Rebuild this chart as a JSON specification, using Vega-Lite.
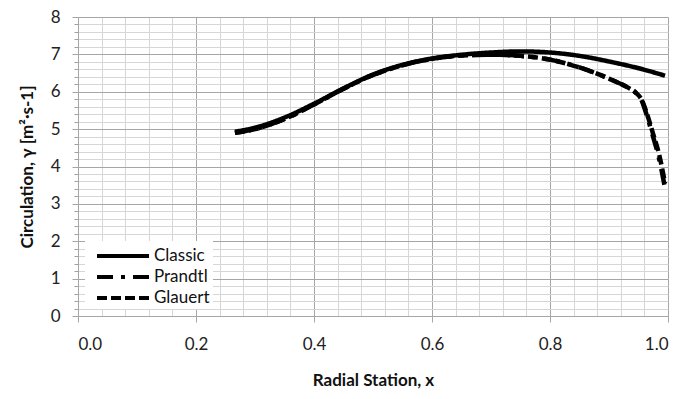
{
  "$schema": "https://vega.github.io/schema/vega-lite/v6.json",
  "width": 590,
  "height": 299,
  "autosize": "none",
  "padding": {"left": 78, "top": 17, "right": 29, "bottom": 83},
  "background": "white",
  "config": {"view": {"stroke": null}, "font": "Lato"},
  "data": {
    "values": [
      {"series": "Classic", "x": 0.266, "y": 4.93},
      {"series": "Classic", "x": 0.3, "y": 5.04},
      {"series": "Classic", "x": 0.35, "y": 5.31},
      {"series": "Classic", "x": 0.4, "y": 5.68},
      {"series": "Classic", "x": 0.45, "y": 6.09},
      {"series": "Classic", "x": 0.5, "y": 6.46},
      {"series": "Classic", "x": 0.55, "y": 6.72},
      {"series": "Classic", "x": 0.6, "y": 6.89},
      {"series": "Classic", "x": 0.65, "y": 6.99},
      {"series": "Classic", "x": 0.7, "y": 7.05},
      {"series": "Classic", "x": 0.75, "y": 7.08},
      {"series": "Classic", "x": 0.8, "y": 7.05},
      {"series": "Classic", "x": 0.85, "y": 6.96},
      {"series": "Classic", "x": 0.9, "y": 6.81},
      {"series": "Classic", "x": 0.95, "y": 6.63},
      {"series": "Classic", "x": 0.995, "y": 6.43},
      {"series": "Prandtl", "x": 0.266, "y": 4.9},
      {"series": "Prandtl", "x": 0.3, "y": 5.0},
      {"series": "Prandtl", "x": 0.35, "y": 5.27},
      {"series": "Prandtl", "x": 0.4, "y": 5.66},
      {"series": "Prandtl", "x": 0.45, "y": 6.08},
      {"series": "Prandtl", "x": 0.5, "y": 6.45},
      {"series": "Prandtl", "x": 0.55, "y": 6.71},
      {"series": "Prandtl", "x": 0.6, "y": 6.88},
      {"series": "Prandtl", "x": 0.65, "y": 6.97},
      {"series": "Prandtl", "x": 0.7, "y": 6.99},
      {"series": "Prandtl", "x": 0.75, "y": 6.96},
      {"series": "Prandtl", "x": 0.8, "y": 6.86},
      {"series": "Prandtl", "x": 0.85, "y": 6.65},
      {"series": "Prandtl", "x": 0.9, "y": 6.35},
      {"series": "Prandtl", "x": 0.93, "y": 6.13},
      {"series": "Prandtl", "x": 0.945, "y": 5.98},
      {"series": "Prandtl", "x": 0.955, "y": 5.78},
      {"series": "Prandtl", "x": 0.965, "y": 5.32},
      {"series": "Prandtl", "x": 0.975, "y": 4.78},
      {"series": "Prandtl", "x": 0.985, "y": 4.2},
      {"series": "Prandtl", "x": 0.995, "y": 3.42},
      {"series": "Glauert", "x": 0.266, "y": 4.9},
      {"series": "Glauert", "x": 0.3, "y": 5.0},
      {"series": "Glauert", "x": 0.35, "y": 5.27},
      {"series": "Glauert", "x": 0.4, "y": 5.66},
      {"series": "Glauert", "x": 0.45, "y": 6.08},
      {"series": "Glauert", "x": 0.5, "y": 6.45},
      {"series": "Glauert", "x": 0.55, "y": 6.71},
      {"series": "Glauert", "x": 0.6, "y": 6.88},
      {"series": "Glauert", "x": 0.65, "y": 6.97},
      {"series": "Glauert", "x": 0.7, "y": 6.99},
      {"series": "Glauert", "x": 0.75, "y": 6.96},
      {"series": "Glauert", "x": 0.8, "y": 6.86},
      {"series": "Glauert", "x": 0.85, "y": 6.65},
      {"series": "Glauert", "x": 0.9, "y": 6.35},
      {"series": "Glauert", "x": 0.93, "y": 6.13},
      {"series": "Glauert", "x": 0.945, "y": 5.98},
      {"series": "Glauert", "x": 0.955, "y": 5.8},
      {"series": "Glauert", "x": 0.965, "y": 5.38},
      {"series": "Glauert", "x": 0.975, "y": 4.86},
      {"series": "Glauert", "x": 0.985, "y": 4.32},
      {"series": "Glauert", "x": 0.995, "y": 3.55}
    ]
  },
  "resolve": {"axis": {"x": "independent", "y": "independent"}},
  "layer": [
    {
      "mark": {"type": "point", "opacity": 0},
      "encoding": {
        "x": {
          "field": "x", "type": "quantitative",
          "scale": {"domain": [0, 1], "nice": false, "zero": false},
          "axis": {
            "orient": "bottom", "title": null, "labels": false, "ticks": false, "domain": false,
            "grid": true, "gridColor": "#d6d6d6", "gridWidth": 1,
            "values": [0, 0.04, 0.08, 0.12, 0.16, 0.2, 0.24, 0.28, 0.32, 0.36, 0.4, 0.44, 0.48, 0.52, 0.56, 0.6, 0.64, 0.68, 0.72, 0.76, 0.8, 0.84, 0.88, 0.92, 0.96, 1]
          }
        },
        "y": {
          "field": "y", "type": "quantitative",
          "scale": {"domain": [0, 8], "nice": false, "zero": false},
          "axis": {
            "orient": "left", "title": null, "labels": false, "ticks": true, "tickSize": 4, "tickColor": "#a0a0a0", "domain": false,
            "grid": true, "gridColor": "#d6d6d6", "gridWidth": 1,
            "values": [0, 0.2, 0.4, 0.6, 0.8, 1, 1.2, 1.4, 1.6, 1.8, 2, 2.2, 2.4, 2.6, 2.8, 3, 3.2, 3.4, 3.6, 3.8, 4, 4.2, 4.4, 4.6, 4.8, 5, 5.2, 5.4, 5.6, 5.8, 6, 6.2, 6.4, 6.6, 6.8, 7, 7.2, 7.4, 7.6, 7.8, 8]
          }
        }
      }
    },
    {
      "mark": {"type": "line", "strokeWidth": 4.5, "interpolate": "monotone", "color": "black"},
      "encoding": {
        "x": {
          "field": "x", "type": "quantitative",
          "axis": {
            "orient": "bottom", "title": "Radial Station,  x",
            "values": [0, 0.2, 0.4, 0.6, 0.8, 1], "format": ".1f",
            "grid": true, "gridColor": "#a6a6a6", "gridWidth": 1,
            "domain": true, "domainColor": "#a6a6a6",
            "ticks": true, "tickSize": 6, "tickColor": "#a6a6a6",
            "labelFont": "Lato", "labelFontSize": 17, "labelColor": "#222", "labelPadding": 14,
            "titleFont": "Lato", "titleFontSize": 17, "titleFontWeight": "bold", "titleColor": "#111", "titlePadding": 20
          }
        },
        "y": {
          "field": "y", "type": "quantitative",
          "axis": {
            "orient": "left", "title": "Circulation, γ [m²·s-1]",
            "values": [0, 1, 2, 3, 4, 5, 6, 7, 8], "format": "d",
            "grid": true, "gridColor": "#a6a6a6", "gridWidth": 1,
            "domain": true, "domainColor": "#a6a6a6",
            "ticks": true, "tickSize": 6, "tickColor": "#a6a6a6",
            "labelFont": "Lato", "labelFontSize": 17, "labelColor": "#222", "labelPadding": 12,
            "titleFont": "Lato", "titleFontSize": 17, "titleFontWeight": "bold", "titleColor": "#111", "titlePadding": 14
          }
        },
        "strokeDash": {
          "field": "series", "type": "nominal",
          "scale": {"domain": ["Classic", "Prandtl", "Glauert"], "range": [[1, 0], [16, 8, 4, 8], [10, 4]]},
          "legend": {
            "title": null, "orient": "bottom-left", "offset": 7, "fillColor": "white", "padding": 3,
            "symbolType": "M-1,0H4.2", "symbolSize": 400, "symbolOffset": 7, "symbolStrokeWidth": 4, "symbolStrokeColor": "black",
            "labelFont": "Lato", "labelFontSize": 17, "labelColor": "#111", "rowPadding": 1, "labelOffset": 35
          }
        }
      }
    }
  ]
}
